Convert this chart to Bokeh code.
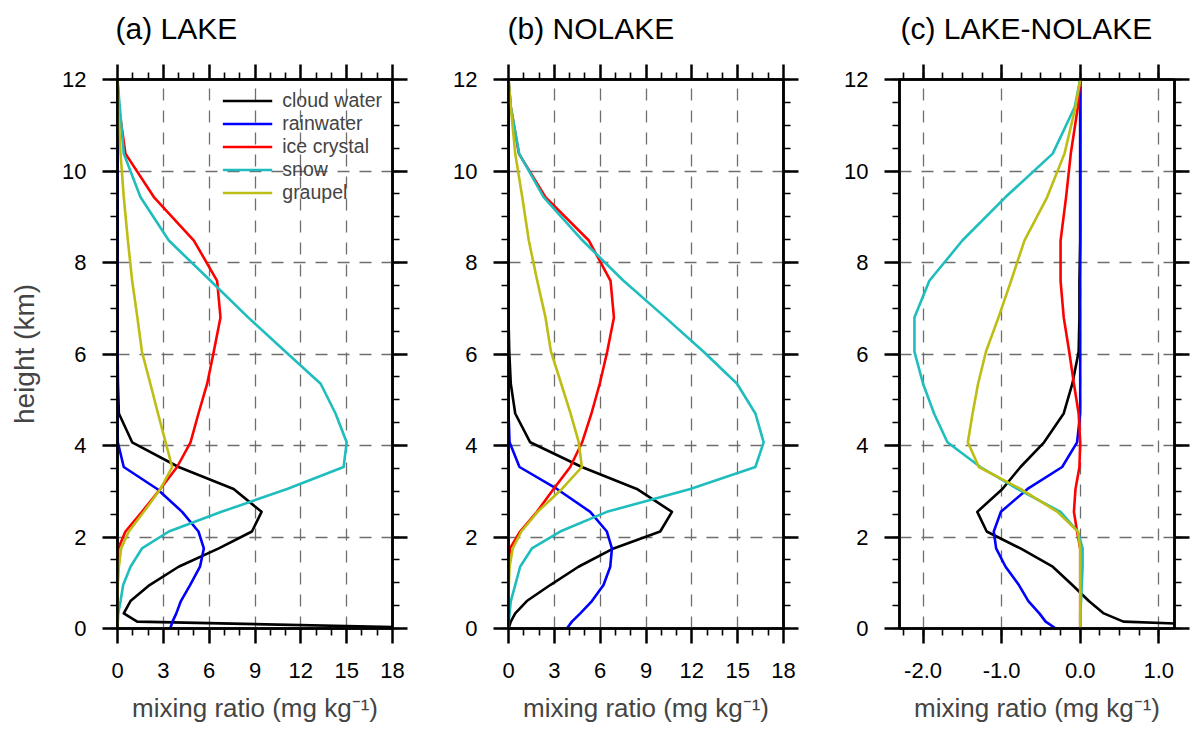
from bokeh.plotting import figure
from bokeh.models import FixedTicker, LinearAxis, PrintfTickFormatter
from bokeh.layouts import row
from bokeh.embed import file_html
from bokeh.resources import INLINE

# Model levels (km) shared by all profiles
height_km = [0.0, 0.15, 0.33, 0.6, 0.95, 1.35, 1.75, 2.12, 2.55, 3.05, 3.53,
             4.07, 4.7, 5.35, 6.05, 6.8, 7.6, 8.48, 9.43, 10.38, 11.4, 12.0]

species = ["cloud water", "rainwater", "ice crystal", "snow", "graupel"]

# (a) LAKE, mg/kg
lake_cloud_water = [22.5, 1.29, 0.41, 0.85, 2.1, 4.0, 6.63, 8.8, 9.43, 7.6, 4.0,
                    0.96, 0.09, 0.03, 0.01, 0, 0, 0, 0, 0, 0, 0]
lake_rainwater = [3.45, 3.6, 3.85, 4.15, 4.75, 5.4, 5.65, 5.3, 4.23, 2.6, 0.41,
                  0.02, 0, 0, 0, 0, 0, 0, 0, 0, 0, 0]
lake_ice_crystal = [0, 0, 0, 0, 0, 0, 0.05, 0.52, 1.6, 2.8, 3.9,
                    4.78, 5.3, 5.87, 6.3, 6.74, 6.52, 5.0, 2.38, 0.52, 0.09, 0]
lake_snow = [0, 0.02, 0.05, 0.2, 0.37, 0.85, 1.6, 3.36, 6.8, 11.1, 14.8,
             15.0, 14.27, 13.3, 11.0, 8.55, 6.09, 3.36, 1.5, 0.41, 0.15, 0]
lake_graupel = [0, 0, 0, 0, 0.02, 0.09, 0.24, 0.74, 1.72, 2.81, 3.58,
                3.15, 2.65, 2.15, 1.6, 1.3, 0.96, 0.68, 0.41, 0.2, 0.04, 0]

# (b) NOLAKE, mg/kg
nolake_cloud_water = [0, 0.15, 0.44, 1.2, 2.73, 4.58, 6.88, 9.93, 10.7, 8.4, 4.8,
                      1.42, 0.44, 0.15, 0.05, 0, 0, 0, 0, 0, 0, 0]
nolake_rainwater = [3.82, 4.15, 4.7, 5.46, 6.22, 6.66, 6.77, 6.44, 5.35, 3.17, 0.72,
                    0.07, 0, 0, 0, 0, 0, 0, 0, 0, 0, 0]
nolake_ice_crystal = [0, 0, 0, 0, 0, 0, 0.1, 0.76, 1.86, 2.95, 4.04,
                      4.82, 5.43, 5.97, 6.46, 6.9, 6.68, 5.26, 2.42, 0.68, 0.15, 0]
nolake_snow = [0, 0.02, 0.07, 0.15, 0.44, 0.76, 1.53, 3.38, 6.44, 11.9, 16.16,
               16.7, 16.16, 14.96, 12.77, 10.26, 7.53, 4.85, 2.3, 0.7, 0.15, 0]
nolake_graupel = [0, 0, 0, 0, 0.02, 0.07, 0.28, 0.84, 1.9, 3.5, 4.8,
                  4.6, 4.06, 3.45, 2.78, 2.42, 1.88, 1.33, 0.9, 0.44, 0.15, 0]

# (c) LAKE-NOLAKE, mg/kg
diff_cloud_water = [3.0, 0.55, 0.3, 0.11, -0.1, -0.35, -0.76, -1.19, -1.31, -0.99, -0.76,
                    -0.46, -0.21, -0.1, -0.02, -0.01, -0.01, 0, 0, 0, 0, 0]
diff_rainwater = [-0.31, -0.44, -0.52, -0.66, -0.78, -0.95, -1.07, -1.1, -1.01, -0.67, -0.23,
                  -0.04, 0, 0, 0, 0, 0, 0, 0, 0, 0, 0]
diff_ice_crystal = [0, 0, 0, 0, 0, 0, 0, -0.04, -0.08, -0.06, -0.01,
                    0.0, -0.02, -0.08, -0.14, -0.21, -0.25, -0.25, -0.18, -0.12, -0.03, 0]
diff_snow = [0, 0, 0, 0.01, 0.02, 0.03, 0.03, -0.03, -0.25, -0.8, -1.27,
             -1.69, -1.86, -2.0, -2.11, -2.11, -1.92, -1.5, -0.95, -0.35, -0.07, 0]
diff_graupel = [0, 0, 0, 0, 0, 0, 0, -0.03, -0.29, -0.76, -1.29,
                -1.43, -1.37, -1.3, -1.2, -1.04, -0.88, -0.71, -0.42, -0.2, -0.06, 0]

colors = ["#000000", "#0000ff", "#ff0000", "#1fbdbd", "#bdbd14"]

ab_ticks = [0, 3, 6, 9, 12, 15, 18]
ab_minor = [v for v in range(0, 19) if v % 3]
c_ticks = [-2.0, -1.0, 0.0, 1.0]
c_minor = [-2.25 + 0.25 * i for i in range(15)]
y_ticks = [0, 2, 4, 6, 8, 10, 12]
y_minor = [0.5 * i for i in range(25)]

FONT = "Liberation Sans"
XLABEL = "mixing ratio (mg kg\u207b\u00b9)"
# the row is lifted by SHIFT px so that the heading has room above the top ticks
SHIFT = 14
FIG_H = 729 + SHIFT
FRAME_TOP, FRAME_BOTTOM = 79 + SHIFT, 101


def style_axis(ax, ticks, minor, labelled, fmt=None):
    ax.ticker = FixedTicker(ticks=ticks, minor_ticks=minor)
    if fmt is not None:
        ax.formatter = fmt
    ax.axis_line_width = 2.5
    ax.axis_line_color = "black"
    ax.major_tick_line_width = 2.5
    ax.minor_tick_line_width = 1.6
    ax.major_tick_out = 15
    ax.major_tick_in = 0
    ax.minor_tick_out = 7
    ax.minor_tick_in = 0
    ax.major_label_text_font = FONT
    ax.major_label_text_color = "black"
    if labelled:
        ax.major_label_text_font_size = "22px"
        ax.major_label_standoff = 16
    else:
        ax.major_label_text_font_size = "1px"
        ax.major_label_text_color = None
        ax.major_label_standoff = 0


def panel(title, data, x_range, xticks, xminor, grid_x, fmt,
          width, left, right, title_dx, ylabel=False, legend=False):
    p = figure(width=width, height=FIG_H, x_range=x_range, y_range=(0, 12),
               output_backend="svg", toolbar_location=None,
               min_border_left=left, min_border_right=right,
               min_border_top=FRAME_TOP, min_border_bottom=FRAME_BOTTOM)
    p.add_layout(LinearAxis(), "above")
    p.add_layout(LinearAxis(), "right")

    style_axis(p.below[0], xticks, xminor, True, fmt)
    style_axis(p.left[0], y_ticks, y_minor, True)
    style_axis(p.above[0], xticks, xminor, False)
    style_axis(p.right[0], y_ticks, y_minor, False)

    xa = p.below[0]
    xa.major_label_standoff = 19
    xa.axis_label = XLABEL
    xa.axis_label_text_font = FONT
    xa.axis_label_text_font_size = "26px"
    xa.axis_label_text_font_style = "normal"
    xa.axis_label_standoff = 12
    if ylabel:
        ya = p.left[0]
        ya.axis_label = "height (km)"
        ya.axis_label_text_font = FONT
        ya.axis_label_text_font_size = "28px"
        ya.axis_label_text_font_style = "normal"
        ya.axis_label_standoff = 19

    p.xgrid.ticker = FixedTicker(ticks=grid_x)
    p.ygrid.ticker = FixedTicker(ticks=[2, 4, 6, 8, 10])
    for g in (p.xgrid, p.ygrid):
        g.grid_line_color = "#6e6e6e"
        g.grid_line_width = 1.3
        g.grid_line_dash = "12 10"

    p.outline_line_color = "black"
    p.outline_line_width = 2.5
    p.outline_line_alpha = 1.0

    for name, vals, col in zip(species, data, colors):
        kw = dict(legend_label=name) if legend else {}
        p.line(vals, height_km, line_color=col, line_width=2.6,
               line_join="round", **kw)

    p.title.text = title
    p.title.text_font = FONT
    p.title.text_font_size = "30px"
    p.title.text_font_style = "normal"
    p.title.text_color = "black"
    p.title.align = "left"
    p.title.offset = title_dx
    p.title.standoff = 39

    if legend:
        lg = p.legend[0]
        lg.location = "top_right"
        lg.margin = 10
        lg.padding = 0
        lg.spacing = 0
        lg.label_standoff = 10
        lg.glyph_width = 50
        lg.glyph_height = 21
        lg.label_height = 21
        lg.label_text_font = FONT
        lg.label_text_font_size = "19.5px"
        lg.border_line_color = None
        lg.background_fill_alpha = 0
    return p


pa = panel("(a) LAKE",
           [lake_cloud_water, lake_rainwater, lake_ice_crystal, lake_snow, lake_graupel],
           (0, 18), ab_ticks, ab_minor, [3, 6, 9, 12, 15], None,
           410, 117, 18, -2, ylabel=True, legend=True)
pb = panel("(b) NOLAKE",
           [nolake_cloud_water, nolake_rainwater, nolake_ice_crystal, nolake_snow, nolake_graupel],
           (0, 18), ab_ticks, ab_minor, [3, 6, 9, 12, 15], None,
           391, 98, 18, -1)
pc = panel("(c) LAKE-NOLAKE",
           [diff_cloud_water, diff_rainwater, diff_ice_crystal, diff_snow, diff_graupel],
           (-2.3, 1.2), c_ticks, c_minor, c_ticks, PrintfTickFormatter(format="%.1f"),
           392, 98, 19, 1)

layout = row(pa, pb, pc, margin=(-SHIFT, 0, 0, 0))
open("out.html", "w").write(file_html(layout, INLINE))
